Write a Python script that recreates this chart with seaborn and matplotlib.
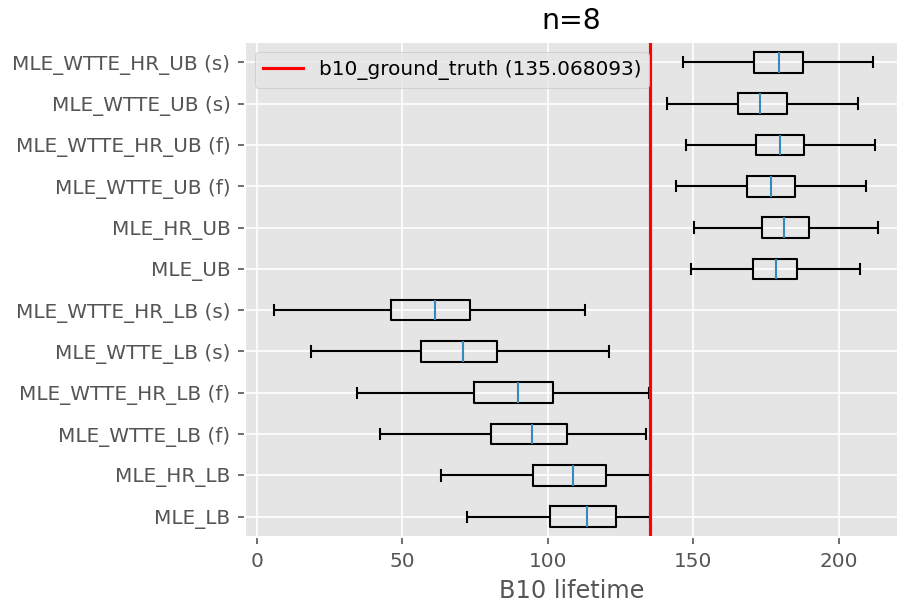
import numpy as np
import pandas as pd
import matplotlib
matplotlib.use("Agg")
import matplotlib.pyplot as plt
import seaborn as sns

plt.style.use("ggplot")

# Estimators, top to bottom
estimators = [
    "MLE_WTTE_HR_UB (s)", "MLE_WTTE_UB (s)", "MLE_WTTE_HR_UB (f)",
    "MLE_WTTE_UB (f)", "MLE_HR_UB", "MLE_UB",
    "MLE_WTTE_HR_LB (s)", "MLE_WTTE_LB (s)", "MLE_WTTE_HR_LB (f)",
    "MLE_WTTE_LB (f)", "MLE_HR_LB", "MLE_LB",
]

# Five-number summaries of the B10 lifetime estimates per estimator
whisker_low = [146.6, 140.9, 147.6, 143.9, 150.3, 149.1,
               6.1, 18.8, 34.5, 42.3, 63.2, 72.4]
quartile_1 = [171.0, 165.4, 171.6, 168.4, 173.5, 170.6,
              46.3, 56.6, 74.8, 80.6, 94.8, 100.6]
medians = [179.5, 173.0, 179.7, 176.6, 181.3, 178.3,
           61.2, 70.8, 89.8, 94.7, 108.5, 113.5]
quartile_3 = [187.6, 182.1, 188.1, 185.0, 189.6, 185.6,
              73.4, 82.7, 101.9, 106.6, 120.1, 123.5]
whisker_high = [211.7, 206.5, 212.4, 209.2, 213.6, 207.1,
                112.8, 121.0, 134.9, 133.9, 135.0, 135.0]

b10_ground_truth = 135.068093
n_samples = 8

rows = []
for name, lo, a, m, b, hi in zip(estimators, whisker_low, quartile_1,
                                 medians, quartile_3, whisker_high):
    for v in (lo, a, m, b, hi):
        rows.append({"estimator": name, "B10 lifetime": v})
df = pd.DataFrame(rows)

dpi = 150
fig = plt.figure(figsize=(898 / dpi, 604 / dpi), dpi=dpi)
ax = fig.add_axes([0.2728, 0.1104, 0.7272, 0.8206])

line_kw = {"linewidth": 1.0}
sns.boxplot(
    data=df, x="B10 lifetime", y="estimator", order=estimators,
    orient="h", fill=False, color="black", width=0.5, whis=(0, 100),
    showfliers=False, ax=ax,
    boxprops={"color": "black", **line_kw},
    whiskerprops={"color": "black", **line_kw},
    capprops={"color": "black", **line_kw},
    medianprops={"color": "#348ABD", **line_kw},
)

ax.axvline(b10_ground_truth, color="red", linewidth=1.5,
           label=f"b10_ground_truth ({b10_ground_truth:.6f})")

ax.set_xlim(-4.0, 220.3)
ax.set_ylim(len(estimators) - 0.5, -0.5)
ax.set_xticks([0, 50, 100, 150, 200])
ax.tick_params(axis="both", labelsize=9.6)
ax.set_xlabel("B10 lifetime", fontsize=11.5)
ax.set_ylabel("")
ax.set_title(f"n={n_samples}", fontsize=13.6, color="black")
ax.grid(True, axis="both", color="white")
ax.set_axisbelow(True)
ax.legend(loc="upper left", fontsize=9.6)

fig.savefig("out.png", dpi=dpi)
